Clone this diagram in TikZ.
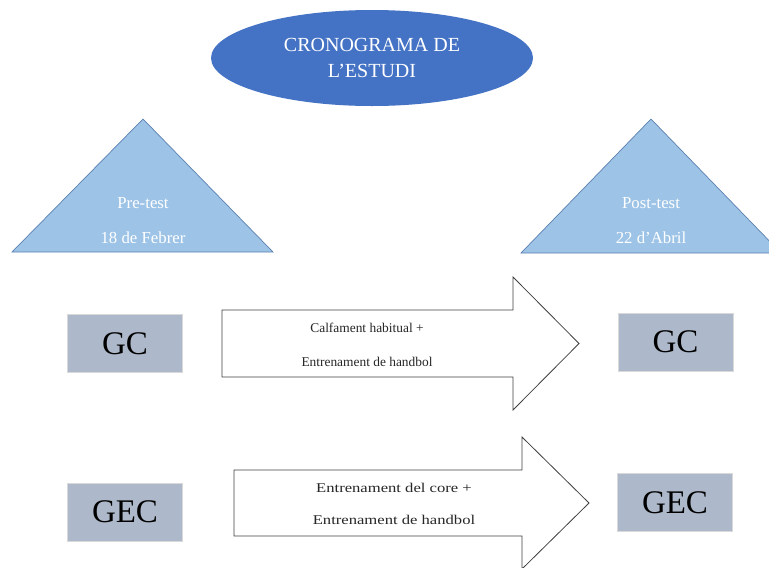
\documentclass[tikz,border=0pt]{standalone}
\usepackage{fontspec}
\setmainfont{Liberation Serif}
\newfontfamily\serifample[FakeStretch=1.24]{Liberation Serif}
\usetikzlibrary{positioning,shapes.geometric}
\definecolor{cronBlue}{HTML}{4472C4}
\definecolor{cronSky}{HTML}{9DC3E6}
\definecolor{cronEdge}{HTML}{5B80B0}
\definecolor{cronGrey}{HTML}{ADB9CA}
\definecolor{cronLine}{HTML}{404040}
\tikzset{
  titol/.style={ellipse, fill=cronBlue, text=white, align=center,
              minimum width=322pt, minimum height=96pt, inner sep=0pt,
              font=\fontsize{20}{26}\selectfont},
  prova/.style={draw=cronEdge, fill=cronSky, line width=0.7pt, line join=miter},
  data/.style={text=white, font=\fontsize{16.8}{18}\selectfont, inner sep=0pt},
  grup/.style={draw=black!15, fill=cronGrey, line width=0.8pt,
              minimum width=115pt, minimum height=58pt,
              font=\fontsize{33}{36}\selectfont},
  fletxa/.style={draw=cronLine, fill=white, line width=0.8pt, line join=miter},
  pas/.style={align=center, text=black!85, font=\fontsize{13.4}{34}\selectfont, inner sep=0pt},
  pasample/.style={pas, font=\serifample\fontsize{13.4}{32}\selectfont},
}
\begin{document}
\begin{tikzpicture}[x=1pt,y=-1pt]
    \useasboundingbox (0,0) rectangle (769,568);
    \node[titol] (titol) at (372,58) {CRONOGRAMA DE\\L’ESTUDI};
    % pre i post test
    \draw[prova] (143,119) -- (273,252) -- (12,252) -- cycle;
    \draw[prova] (651,119) -- (781,253) -- (521,253) -- cycle;
    \node[data] (pre) at (143,203) {Pre-test};
    \node[data] (predia) at (143,238) {18 de Febrer};
    \node[data] (post) at (651,203) {Post-test};
    \node[data] (postdia) at (651,238) {22 d’Abril};
    % grups
    \node[grup] (gc1) at (125,343.5) {GC};
    \node[grup] (gc2) at (675.5,342) {GC};
    \node[grup] (gec1) at (125,512) {GEC};
    \node[grup] (gec2) at (675,502.5) {GEC};
    % intervencions
    \draw[fletxa] (222,310) -- (513,310) -- (513,277) -- (579,343.5)
        -- (513,410) -- (513,377) -- (222,377) -- cycle;
    \draw[fletxa] (234,470) -- (522,470) -- (522,437) -- (589,503)
        -- (522,569) -- (522,536) -- (234,536) -- cycle;
    \node[pas] (calf) at (367,344.5) {Calfament habitual +\\Entrenament de handbol};
    \node[pasample] (core) at (394,504) {Entrenament del core +\\Entrenament de handbol};
\end{tikzpicture}
\end{document}
